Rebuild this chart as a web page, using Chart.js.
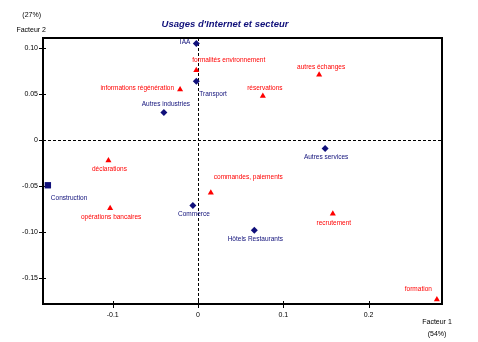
<!DOCTYPE html>
<html>
<head>
<meta charset="utf-8">
<script src="https://cdn.jsdelivr.net/npm/chart.js@4"></script>
<style>
html,body{margin:0;padding:0;background:#fff;}
#wrap{width:478px;height:342px;position:relative;}
</style>
</head>
<body>
<div id="wrap"><canvas id="c" width="478" height="342"></canvas></div>
<script>
// ---- data ----
const sectorNames = ["IAA", "Transport", "Autres industries", "Autres services", "Construction", "Commerce", "Hôtels Restaurants"];
const sectorX = [-0.002, -0.002, -0.040, 0.149, -0.176, -0.006, 0.066];
const sectorY = [0.105, 0.064, 0.030, -0.009, -0.049, -0.071, -0.098];

const usageNames = ["formalités environnement", "informations régénération", "autres échanges", "réservations", "déclarations", "commandes, paiements", "opérations bancaires", "recrutement", "formation"];
const usageX = [-0.002, -0.021, 0.142, 0.076, -0.105, 0.015, -0.103, 0.158, 0.280];
const usageY = [0.076, 0.055, 0.071, 0.048, -0.022, -0.057, -0.074, -0.080, -0.173];

const xTicks = [-0.1, 0, 0.1, 0.2];
const xTickLabels = ["-0.1", "0", "0.1", "0.2"];
const yTicks = [0.10, 0.05, 0, -0.05, -0.10, -0.15];
const yTickLabels = ["0.10", "0.05", "0", "-0.05", "-0.10", "-0.15"];

const chartTitle = "Usages d'Internet et secteur";
const xAxisTitle = ["Facteur 1", "(54%)"];
const yAxisTitle = ["(27%)", "Facteur 2"];

// ---- styles (label placement) ----
const sectorPlace = ["left", "belowRight", "above", "below", "belowRight", "below", "below"];
const sectorMarker = ["rectRot", "rectRot", "rectRot", "rectRot", "rect", "rectRot", "rectRot"];
const usagePlace = ["aboveRight", "left", "above", "above", "below", "upRight", "below", "below", "aboveLeft"];

const NAVY = "#10107a";
const RED = "#ff0000";
const FONT = "'Liberation Sans', Arial, sans-serif";

const toPts = (xs, ys) => xs.map((x, i) => ({x: x, y: ys[i]}));

const decor = {
  id: 'decor',
  beforeDatasetsDraw(chart) {
    const {ctx, chartArea: a, scales: {x, y}} = chart;
    ctx.save();
    ctx.strokeStyle = '#000';
    ctx.lineWidth = 1;
    ctx.setLineDash([3, 2]);
    const x0 = Math.round(x.getPixelForValue(0)) + 0.5;
    const y0 = Math.round(y.getPixelForValue(0)) + 0.5;
    ctx.beginPath();
    ctx.moveTo(x0, a.top); ctx.lineTo(x0, a.bottom);
    ctx.moveTo(a.left, y0); ctx.lineTo(a.right, y0);
    ctx.stroke();
    ctx.setLineDash([]);
    ctx.lineWidth = 2;
    ctx.strokeRect(a.left, a.top, a.right - a.left, a.bottom - a.top);
    ctx.lineWidth = 1;
    ctx.beginPath();
    yTicks.forEach(v => {
      const p = Math.round(y.getPixelForValue(v)) + 0.5;
      ctx.moveTo(a.left - 4, p); ctx.lineTo(a.left + 3, p);
    });
    xTicks.forEach(v => {
      const p = Math.round(x.getPixelForValue(v)) + 0.5;
      ctx.moveTo(p, a.bottom - 3); ctx.lineTo(p, a.bottom + 4);
    });
    ctx.stroke();
    ctx.fillStyle = '#000';
    ctx.font = "7px " + FONT;
    ctx.textBaseline = 'middle';
    ctx.textAlign = 'right';
    yTicks.forEach((v, i) => ctx.fillText(yTickLabels[i], a.left - 5, y.getPixelForValue(v)));
    ctx.textAlign = 'center';
    xTicks.forEach((v, i) => ctx.fillText(xTickLabels[i], x.getPixelForValue(v), a.bottom + 11));
    ctx.restore();
  },
  afterDatasetsDraw(chart) {
    const {ctx, scales: {x, y}} = chart;
    ctx.save();
    ctx.font = "6.5px " + FONT;
    ctx.textBaseline = 'middle';
    const drawLabel = (name, px, py, place, color) => {
      ctx.fillStyle = color;
      let tx = px, ty = py;
      switch (place) {
        case 'left': ctx.textAlign = 'right'; tx = px - 6; ty = py - 1; break;
        case 'above': ctx.textAlign = 'center'; ty = py - 8; tx = px + 2; break;
        case 'below': ctx.textAlign = 'center'; ty = py + 9; tx = px + 1; break;
        case 'belowRight': ctx.textAlign = 'left'; tx = px + 3; ty = py + 13; break;
        case 'aboveRight': ctx.textAlign = 'left'; tx = px - 4; ty = py - 10; break;
        case 'upRight': ctx.textAlign = 'left'; tx = px + 3; ty = py - 15; break;
        case 'aboveLeft': ctx.textAlign = 'right'; tx = px - 5; ty = py - 10; break;
      }
      ctx.fillText(name, tx, ty);
    };
    sectorNames.forEach((n, i) => drawLabel(n, x.getPixelForValue(sectorX[i]), y.getPixelForValue(sectorY[i]), sectorPlace[i], NAVY));
    usageNames.forEach((n, i) => drawLabel(n, x.getPixelForValue(usageX[i]), y.getPixelForValue(usageY[i]), usagePlace[i], RED));
    ctx.fillStyle = NAVY;
    ctx.font = "italic bold 9.5px " + FONT;
    ctx.textAlign = 'center';
    ctx.fillText(chartTitle, 225, 24);
    ctx.fillStyle = '#000';
    ctx.font = "7px " + FONT;
    ctx.textAlign = 'right';
    ctx.fillText(yAxisTitle[0], 41, 15);
    ctx.fillText(yAxisTitle[1], 46, 30);
    ctx.textAlign = 'center';
    ctx.fillText(xAxisTitle[0], 437, 322);
    ctx.fillText(xAxisTitle[1], 437, 334);
    ctx.restore();
  }
};

new Chart(document.getElementById('c'), {
  type: 'scatter',
  data: {
    datasets: [
      {
        label: 'Secteurs',
        data: toPts(sectorX, sectorY),
        pointStyle: sectorMarker,
        backgroundColor: NAVY,
        borderColor: NAVY,
        pointRadius: sectorMarker.map(m => m === 'rect' ? 4.5 : 3.5),
        borderWidth: 0
      },
      {
        label: 'Usages',
        data: toPts(usageX, usageY),
        pointStyle: 'triangle',
        backgroundColor: RED,
        borderColor: RED,
        pointRadius: 3.5,
        borderWidth: 0
      }
    ]
  },
  options: {
    responsive: false,
    animation: false,
    devicePixelRatio: 1,
    layout: {padding: {top: 38, right: 36, left: 0, bottom: 0}},
    plugins: {legend: {display: false}, tooltip: {enabled: false}, title: {display: false}},
    scales: {
      x: {
        type: 'linear', min: -0.1817, max: 0.286,
        afterBuildTicks: s => { s.ticks = xTicks.map(v => ({value: v})); },
        afterFit: s => { s.height = 38; },
        grid: {display: false},
        border: {display: false},
        ticks: {display: false}
      },
      y: {
        type: 'linear', min: -0.178, max: 0.111,
        afterBuildTicks: s => { s.ticks = yTicks.map(v => ({value: v})); },
        afterFit: s => { s.width = 43; },
        grid: {display: false},
        border: {display: false},
        ticks: {display: false}
      }
    }
  },
  plugins: [decor]
});
</script>
</body>
</html>
